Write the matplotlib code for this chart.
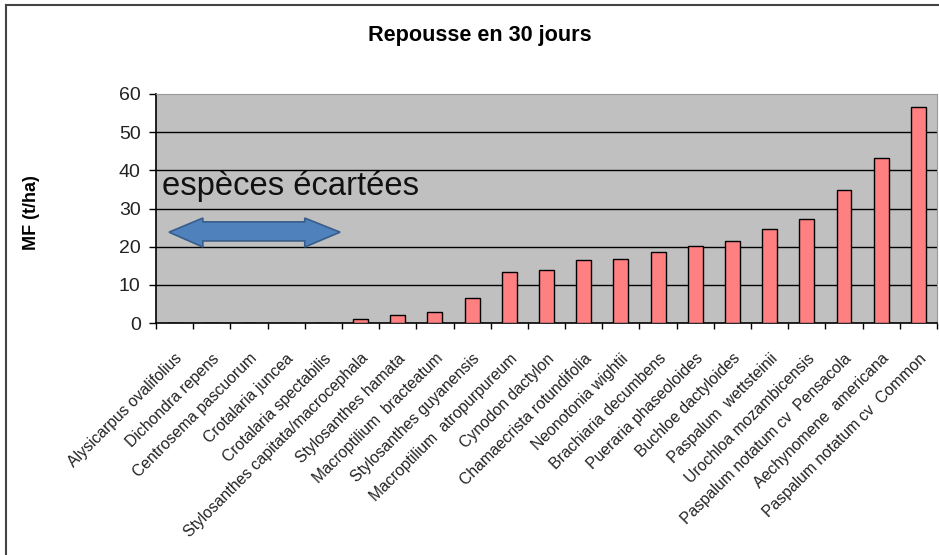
import matplotlib.pyplot as plt
from matplotlib.patches import Polygon
from matplotlib.lines import Line2D
import numpy as np

especes = [
    "Alysicarpus ovalifolius",
    "Dichondra repens",
    "Centrosema pascuorum",
    "Crotalaria juncea",
    "Crotalaria spectabilis",
    "Stylosanthes capitata/macrocephala",
    "Stylosanthes hamata",
    "Macroptilium  bracteatum",
    "Stylosanthes guyanensis",
    "Macroptilium  atropurpureum",
    "Cynodon dactylon",
    "Chamaecrista rotundifolia",
    "Neonotonia wightii",
    "Brachiaria decumbens",
    "Pueraria phaseoloides",
    "Buchloe dactyloides",
    "Paspalum  wettsteinii",
    "Urochloa mozambicensis",
    "Paspalum notatum cv  Pensacola",
    "Aechynomene  americana",
    "Paspalum notatum cv  Common",
]
mf = [0, 0, 0, 0, 0, 1.0, 2.1, 2.8, 6.6, 13.3, 13.8, 16.4, 16.75, 18.6,
      20.1, 21.5, 24.5, 27.3, 34.8, 43.2, 56.5]
yticks = [0, 10, 20, 30, 40, 50, 60]

plt.rcParams['font.family'] = ['Liberation Sans', 'DejaVu Sans']

fig = plt.figure(figsize=(9.39, 5.55), dpi=100)
ax = fig.add_axes([156/939, 1 - 323/555, 781/939, 229/555])
ax.set_facecolor('#C0C0C0')

x = np.arange(len(especes))
ax.bar(x, mf, width=0.4, color='#FF8080', edgecolor='black', linewidth=1, zorder=3)

ax.set_xlim(-0.5, len(especes) - 0.5)
ax.set_ylim(0, 60)
ax.set_yticks(yticks)
for v in yticks[1:-1]:
    ax.axhline(v, color='black', linewidth=1, zorder=1)

ax.set_xticks(x)
ax.set_xticklabels(especes, rotation=45, ha='right', rotation_mode='anchor',
                   fontsize=11.3, color='#222222')
ax.set_xticks(np.arange(-0.5, len(especes)), minor=True)
ax.tick_params(axis='x', which='major', length=0, pad=20)
ax.tick_params(axis='x', which='minor', length=4, width=1, color='black')
ax.tick_params(axis='y', length=5, width=1, pad=6, labelsize=14, labelcolor='#222222')

for s in ['top', 'right']:
    ax.spines[s].set_color('#999999')
for s in ['left', 'bottom']:
    ax.spines[s].set_color('black')
    ax.spines[s].set_linewidth(1.2)

# annotation: excluded species
ax.text(-0.34, 35.7, "espèces écartées", fontsize=23.6, va='center', ha='left',
        color='#111111', zorder=4)
arrow = Polygon([(-0.15, 23.8), (0.76, 27.5), (0.76, 26.5), (3.5, 26.5), (3.5, 27.5),
                 (4.45, 23.8), (3.5, 19.9), (3.5, 21.5), (0.76, 21.5), (0.76, 19.9)],
                closed=True, facecolor='#4F81BD', edgecolor='#385D8A', linewidth=1.2,
                zorder=4)
ax.add_patch(arrow)

fig.text(480/939, 1 - 35/555, "Repousse en 30 jours", fontsize=15.6, fontweight='bold',
         ha='center', va='center')
fig.text(32/939, 1 - 213/555, "MF (t/ha)", fontsize=13, fontweight='bold',
         rotation=90, ha='center', va='center')

# outer frame
fig.add_artist(Line2D([6/939, 6/939], [0, 1 - 5/555], color='#444444', linewidth=1.5))
fig.add_artist(Line2D([6/939, 1], [1 - 5/555, 1 - 5/555], color='#444444', linewidth=1.5))

fig.savefig('out.png', dpi=100)
